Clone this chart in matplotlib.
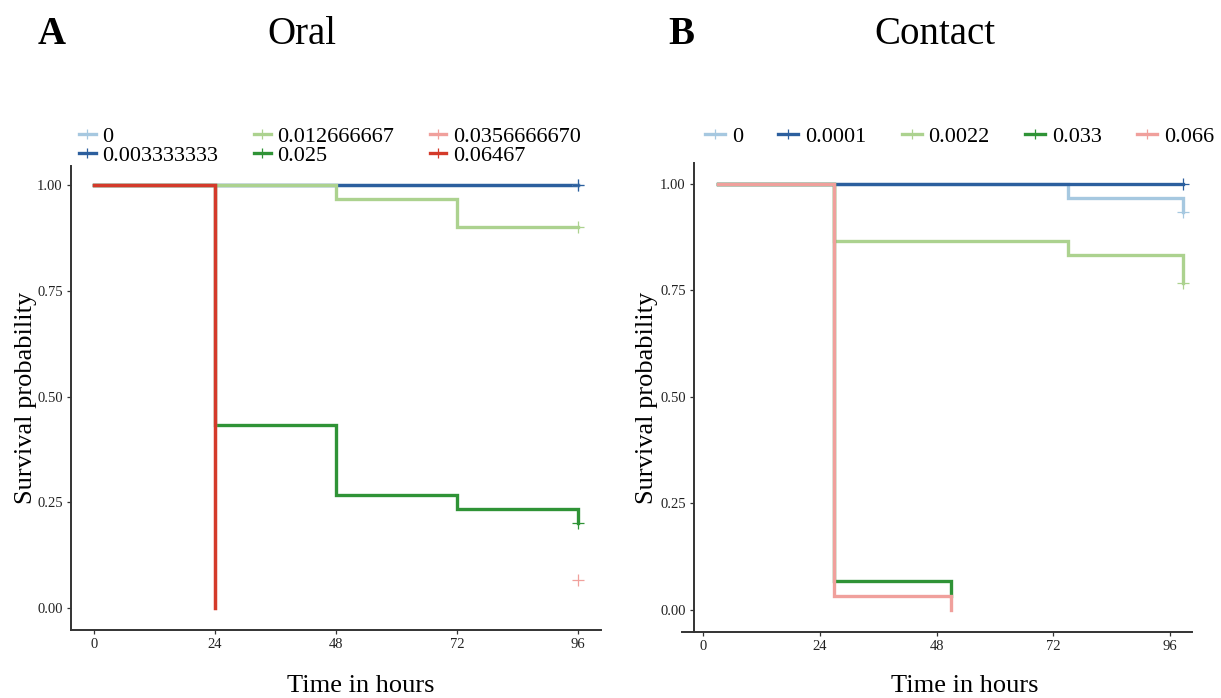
import matplotlib
matplotlib.use("Agg")
import matplotlib.pyplot as plt
from matplotlib.lines import Line2D

plt.rcParams['font.family'] = ['Liberation Serif', 'DejaVu Serif']

# ---------------- data ----------------
# Panel A: Oral
groups_A = ["0", "0.003333333", "0.012666667", "0.025", "0.0356666670", "0.06467"]
colors_A = ["#a6c8e0", "#2c5f9e", "#acd28f", "#2f9336", "#f0a09c", "#d43a2a"]
times_A = {
    "0": [0, 24, 48, 72, 96],
    "0.003333333": [0, 24, 48, 72, 96],
    "0.012666667": [0, 24, 48, 72, 96],
    "0.025": [0, 24, 48, 72, 96],
    "0.0356666670": [0, 24],
    "0.06467": [0, 24],
}
surv_A = {
    "0": [1.0, 1.0, 1.0, 1.0, 1.0],
    "0.003333333": [1.0, 1.0, 1.0, 1.0, 1.0],
    "0.012666667": [1.0, 1.0, 0.967, 0.900, 0.900],
    "0.025": [1.0, 0.433, 0.267, 0.233, 0.200],
    "0.0356666670": [1.0, 0.0],
    "0.06467": [1.0, 0.0],
}
censor_A = {
    "0": (96, 1.0),
    "0.003333333": (96, 1.0),
    "0.012666667": (96, 0.900),
    "0.025": (96, 0.200),
    "0.0356666670": (96, 0.067),
}

# Panel B: Contact
groups_B = ["0", "0.0001", "0.0022", "0.033", "0.066"]
colors_B = ["#a6c8e0", "#2c5f9e", "#acd28f", "#2f9336", "#f0a09c"]
times_B = {
    "0": [3, 27, 51, 75, 98.6],
    "0.0001": [3, 27, 51, 75, 98.6],
    "0.0022": [3, 27, 51, 75, 98.6],
    "0.033": [3, 27, 51],
    "0.066": [3, 27, 51],
}
surv_B = {
    "0": [1.0, 1.0, 1.0, 0.967, 0.933],
    "0.0001": [1.0, 1.0, 1.0, 1.0, 1.0],
    "0.0022": [1.0, 0.867, 0.867, 0.833, 0.767],
    "0.033": [1.0, 0.067, 0.033],
    "0.066": [1.0, 0.033, 0.0],
}
censor_B = {
    "0": (98.6, 0.933),
    "0.0001": (98.6, 1.0),
    "0.0022": (98.6, 0.767),
}

xticks = [0, 24, 48, 72, 96]
yticks = [0.00, 0.25, 0.50, 0.75, 1.00]
ytick_labels = ["0.00", "0.25", "0.50", "0.75", "1.00"]

W, H = 1221, 698
fig = plt.figure(figsize=(W / 100, H / 100), dpi=100)

axis_col = "#333333"
LW = 2.4


def style_axes(ax):
    ax.spines['top'].set_visible(False)
    ax.spines['right'].set_visible(False)
    for s in ('left', 'bottom'):
        ax.spines[s].set_color(axis_col)
        ax.spines[s].set_linewidth(1.4)
    ax.tick_params(axis='both', length=3, width=0.9, color=axis_col,
                   labelsize=10.5, labelcolor="#222222", pad=3)
    ax.set_xticks(xticks)
    ax.set_xticklabels([str(t) for t in xticks])
    ax.set_yticks(yticks)
    ax.set_yticklabels(ytick_labels)
    ax.set_xlabel("Time in hours", fontsize=19)
    ax.set_ylabel("Survival probability", fontsize=19)


def draw(ax, groups, colors, times, surv, censor):
    for g, c in zip(groups, colors):
        ax.plot(times[g], surv[g], drawstyle='steps-post', color=c, lw=LW,
                solid_joinstyle='miter', zorder=2)
    for g, c in zip(groups, colors):
        if g in censor:
            x, y = censor[g]
            ax.plot([x], [y], marker='+', ms=8, mew=0.9, color=c, zorder=3,
                    clip_on=False)


# ---- Panel A ----
axA = fig.add_axes([71 / W, 1 - 630 / H, (601 - 71) / W, (630 - 166) / H])
draw(axA, groups_A, colors_A, times_A, surv_A, censor_A)
axA.set_xlim(-4.56, 100.6)
axA.set_ylim(-0.052, 1.045)
style_axes(axA)
axA.yaxis.set_label_coords(-0.064, 0.5)
axA.xaxis.set_label_coords(0.547, -0.096)

# ---- Panel B ----
axB = fig.add_axes([682 / W, 1 - 632 / H, (1192 - 682) / W, (632 - 163) / H])
draw(axB, groups_B, colors_B, times_B, surv_B, censor_B)
axB.set_xlim(-4.32, 100.5)
axB.set_ylim(-0.052, 1.049)
style_axes(axB)
axB.spines['left'].set_position(('axes', 0.0235))
axB.yaxis.set_label_coords(-0.047, 0.5)
axB.xaxis.set_label_coords(0.555, -0.092)

# ---- legends ----
hA = [Line2D([0], [0], color=c, lw=LW, marker='+', ms=7, mew=0.9)
      for c in colors_A]
legA = fig.legend(hA, groups_A, loc='upper left', ncol=3,
                  bbox_to_anchor=(79 / W, 1 - 126 / H), frameon=False,
                  fontsize=16, handlelength=0.75, handletextpad=0.3,
                  columnspacing=1.6, labelspacing=-0.05, borderaxespad=0,
                  borderpad=0)

hB = [Line2D([0], [0], color=c, lw=LW, marker='+', ms=7, mew=0.9)
      for c in colors_B]
legB = fig.legend(hB, groups_B, loc='upper left', ncol=5,
                  bbox_to_anchor=(705 / W, 1 - 126 / H), frameon=False,
                  fontsize=16, handlelength=0.9, handletextpad=0.3,
                  columnspacing=1.6, borderaxespad=0, borderpad=0)

# ---- titles ----
fig.text(38 / W, 1 - 35 / H, "A", fontsize=28, fontweight='bold', va='center', ha='left')
fig.text(302 / W, 1 - 35 / H, "Oral", fontsize=28, va='center', ha='center')
fig.text(668 / W, 1 - 35 / H, "B", fontsize=28, fontweight='bold', va='center', ha='left')
fig.text(935 / W, 1 - 35 / H, "Contact", fontsize=28, va='center', ha='center')

fig.savefig("out.png", dpi=100, facecolor='white')
